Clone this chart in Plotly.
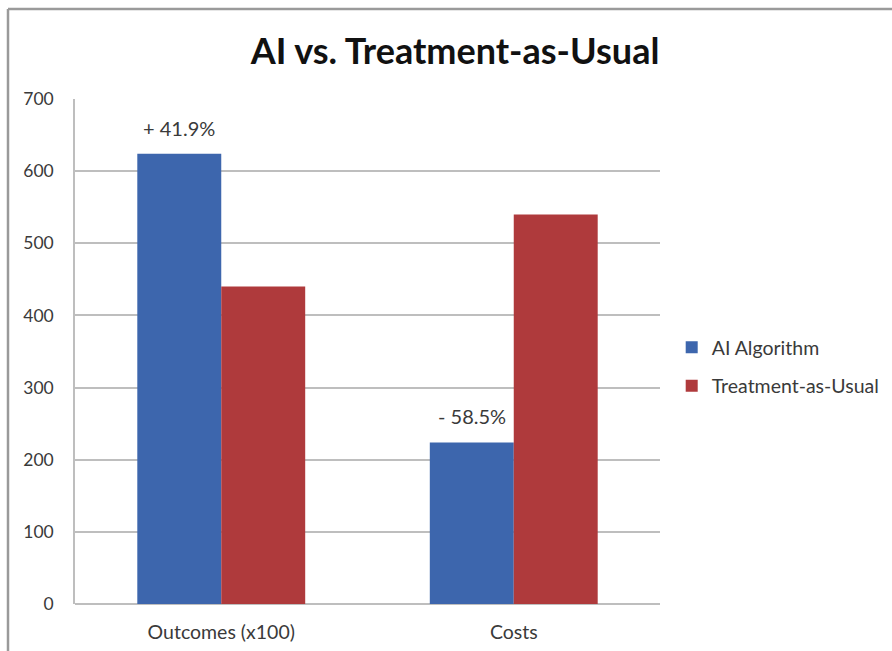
import plotly.graph_objects as go

# Chart data
categories = ["Outcomes (x100)", "Costs"]
ai_values = [624, 224]
tau_values = [440, 540]
ai_labels = ["+ 41.9%", "- 58.5%"]
y_ticks = [0, 100, 200, 300, 400, 500, 600, 700]

BLUE = "#3D66AD"
RED = "#AF3A3C"
FONT = "Lato, Open Sans, sans-serif"
TEXT = "#3A3A3A"

fig = go.Figure()
fig.add_trace(go.Bar(
    name="AI Algorithm", x=categories, y=ai_values, legendgroup="a",
    marker=dict(color=BLUE, line=dict(width=0)),
))
fig.add_trace(go.Bar(
    name="Treatment-as-Usual", x=categories, y=tau_values, legendgroup="b",
    marker=dict(color=RED, line=dict(width=0)),
))

# Percentage change labels above the AI bars
for cat, val, lab in zip(categories, ai_values, ai_labels):
    fig.add_annotation(
        x=cat, y=val, text=lab, showarrow=False,
        xshift=-42, yshift=12, yanchor="bottom",
        font=dict(family=FONT, size=20, color=TEXT),
    )

fig.update_layout(
    width=892, height=651,
    paper_bgcolor="white", plot_bgcolor="white",
    margin=dict(l=75, r=232, t=99, b=47, autoexpand=False),
    barmode="group", bargap=0.426, bargroupgap=0,
    font=dict(family=FONT, size=16, color=TEXT),
    title=dict(
        text="<b>AI vs. Treatment-as-Usual</b>",
        x=455 / 892, xanchor="center", y=1 - 51 / 651, yanchor="middle",
        font=dict(family=FONT, size=36, color="#111111"),
    ),
    legend=dict(
        x=1.02, y=0.47, xanchor="left", yanchor="middle",
        font=dict(family=FONT, size=19.5, color=TEXT),
        itemwidth=30, tracegroupgap=10, bgcolor="rgba(0,0,0,0)",
    ),
    showlegend=True,
)
fig.update_xaxes(
    showline=False, showgrid=False, ticks="", ticklabelstandoff=14,
    automargin=False,
    tickfont=dict(family=FONT, size=19.5, color=TEXT),
)
fig.update_yaxes(
    range=[0, 700], tickvals=y_ticks, showgrid=True, automargin=False,
    gridcolor="#BEBEBE", gridwidth=1.5,
    showline=True, linecolor="#BEBEBE", linewidth=1.5,
    zeroline=True, zerolinecolor="#BEBEBE", zerolinewidth=1.5,
    ticks="", ticklabelstandoff=16,
    tickfont=dict(family=FONT, size=17.5, color=TEXT),
)

# Outer chart frame (top and left edges)
fig.add_shape(type="line", xref="paper", yref="paper",
              x0=-67 / 585, x1=1.5, y0=1 + 90 / 505, y1=1 + 90 / 505,
              line=dict(color="#9A9A9A", width=2.5))
fig.add_shape(type="line", xref="paper", yref="paper",
              x0=-67 / 585, x1=-67 / 585, y0=1 + 90 / 505, y1=-0.2,
              line=dict(color="#9A9A9A", width=2.5))

fig.write_html("out.html")
